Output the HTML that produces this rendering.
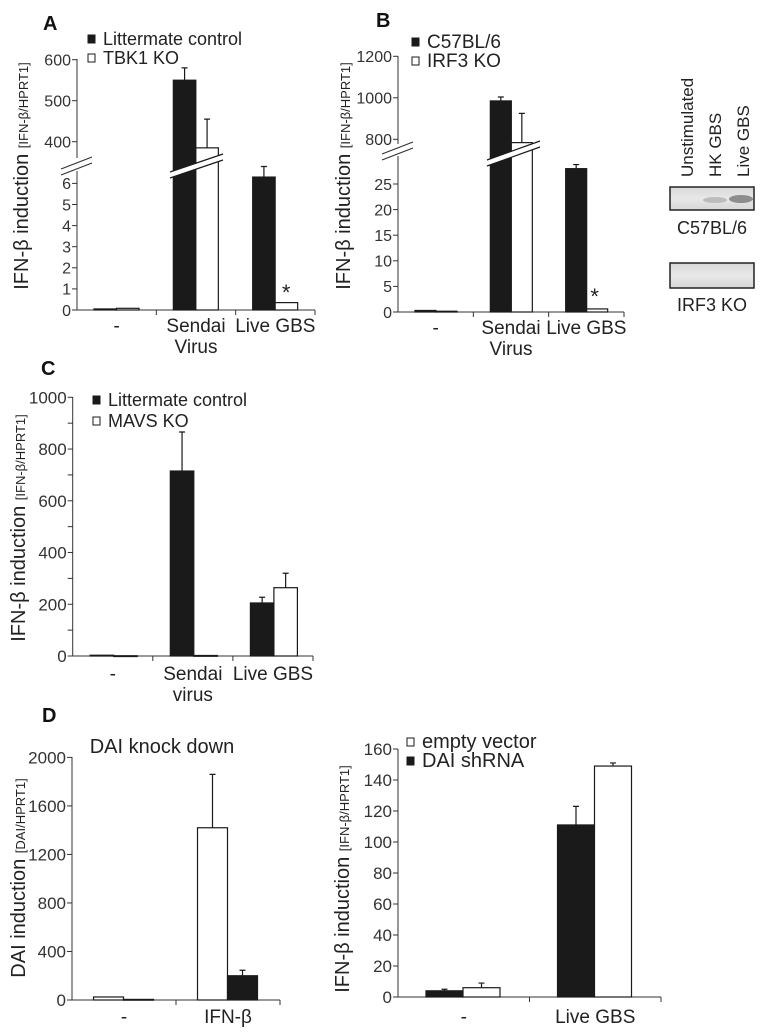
<!DOCTYPE html>
<html><head><meta charset="utf-8">
<style>
html,body{margin:0;padding:0;background:#fff;}
svg{display:block;font-family:"Liberation Sans",Arial,sans-serif;}
</style></head>
<body>
<svg id="fig" width="765" height="1036" viewBox="0 0 765 1036" xmlns="http://www.w3.org/2000/svg">
<defs>
<linearGradient id="blotbg" x1="0" y1="0" x2="0" y2="1">
<stop offset="0" stop-color="#d8d8d8"/><stop offset="0.5" stop-color="#e8e8e8"/><stop offset="1" stop-color="#d6d6d6"/>
</linearGradient>
</defs>
<g id="root"></g>
</svg>
<script>
// ---------- Panel A data ----------
const catsA = [['-'], ['Sendai', 'Virus'], ['Live GBS']];
const ctrlA = [0.05, 550, 6.3];
const ctrlAErr = [0.05, 580, 6.8];
const koA = [0.08, 385, 0.35];
const koAErr = [0.08, 455, 0.35];
const ticksALow = [0, 1, 2, 3, 4, 5, 6];
const ticksAHigh = [400, 500, 600];
// ---------- Panel B data ----------
const catsB = [['-'], ['Sendai', 'Virus'], ['Live GBS']];
const ctrlB = [0.3, 985, 28];
const ctrlBErr = [0.3, 1004, 28.8];
const koB = [0.15, 784, 0.6];
const koBErr = [0.15, 925, 0.8];
const ticksBLow = [0, 5, 10, 15, 20, 25];
const ticksBHigh = [800, 1000, 1200];
// ---------- Panel C data ----------
const catsC = [['-'], ['Sendai', 'virus'], ['Live GBS']];
const ctrlC = [3, 715, 205];
const ctrlCErr = [3, 866, 227];
const koC = [1, 2, 264];
const koCErr = [1, 2, 320];
const ticksC = [0, 200, 400, 600, 800, 1000];
const minorC = [100, 300, 500, 700, 900];
// ---------- Panel D left data ----------
const catsDL = [['-'], ['IFN-β']];
const emptyDL = [25, 1420];
const emptyDLErr = [32, 1860];
const shDL = [5, 200];
const shDLErr = [8, 245];
const ticksDL = [0, 400, 800, 1200, 1600, 2000];
// ---------- Panel D right data ----------
const catsDR = [['-'], ['Live GBS']];
const shDR = [4, 111];
const shDRErr = [5, 123];
const emptyDR = [6, 149];
const emptyDRErr = [9, 151];
const ticksDR = [0, 20, 40, 60, 80, 100, 120, 140, 160];

const NS = 'http://www.w3.org/2000/svg';
const root = document.getElementById('root');
function mk(tag, attrs, parent, text) {
  const e = document.createElementNS(NS, tag);
  for (const k in attrs) e.setAttribute(k, attrs[k]);
  if (text !== undefined) e.textContent = text;
  (parent || root).appendChild(e);
  return e;
}
const TXT = '#222';

const yA = v => v <= 8 ? 310 - v * 21.1 : 141.7 - (v - 400) * 0.41;
const yB = v => v <= 40 ? 312 - v * 5.12 : 139.3 - (v - 800) * 0.2075;
const yC = v => 656 - v * 0.2587;
const yDL = v => 1000 - v * 0.1213;
const yDR = v => 997 - v * 1.55;

function bar(g, x, w, y0, y1, black, name) {
  const r = mk('rect', {x: x, y: Math.min(y0, y1), width: w, height: Math.max(0.8, Math.abs(y0 - y1)),
    fill: black ? '#1a1a1a' : '#fff', stroke: '#1a1a1a', 'stroke-width': 1.2}, g);
  
  
}
function err(g, cx, yTop, yErr, name) {
  if (yTop - yErr < 1.5) return;
  const p = mk('path', {d: `M${cx},${yTop}V${yErr}M${cx - 3},${yErr}H${cx + 3}`, stroke: '#1a1a1a', 'stroke-width': 1.2, fill: 'none'}, g);
  
  
}
function yTick(g, x, y, label, size) {
  mk('line', {x1: x - 5, y1: y, x2: x, y2: y, stroke: '#333', 'stroke-width': 1}, g);
  if (label !== null) {
    const fs = size || 16;
    const t = mk('text', {x: x - 6, y: y + fs * 0.36, 'text-anchor': 'end', 'font-size': fs, fill: '#333'}, g, label);
    
    
  }
}
function xAxis(g, x0, x1, y, n) {
  mk('line', {x1: x0, y1: y, x2: x1, y2: y, stroke: '#333', 'stroke-width': 1}, g);
  const gw = (x1 - x0) / n;
  for (let i = 1; i <= n; i++) mk('line', {x1: x0 + gw * i, y1: y, x2: x0 + gw * i, y2: y + 5, stroke: '#333', 'stroke-width': 1}, g);
  return gw;
}
function catLabels(g, x0, gw, cats, y) {
  cats.forEach((c, i) => {
    c.forEach((line, j) => {
      const t = mk('text', {x: x0 + gw * (i + 0.5), y: y + j * 21, 'text-anchor': 'middle', 'font-size': 19, fill: TXT}, g, line);
      
      
    });
  });
}
function yTitle(g, cx, cy, main, unit) {
  const t = mk('text', {x: cx, y: cy, transform: `rotate(-90 ${cx} ${cy})`, 'text-anchor': 'middle', 'font-size': 20, fill: TXT, dy: 7}, g);
  
  
  mk('tspan', {}, t, main + ' ');
  mk('tspan', {'font-size': 13}, t, unit);
}
function legend(g, x, y, black, label, size, name) {
  const s = mk('rect', {x: x, y: y - 10, width: 7, height: 8, fill: black ? '#1a1a1a' : '#fff', stroke: '#1a1a1a', 'stroke-width': 1}, g);
  
  
  const t = mk('text', {x: x + 15, y: y, 'font-size': size || 18, fill: TXT}, g, label);
  
  
}
function panelLetter(x, y, L) {
  const t = mk('text', {x: x, y: y, 'font-size': 20, 'font-weight': 'bold', fill: '#111'}, root, L);
  
  
}
function barBreak(g, xa, xb, ya, yb) {
  const th = 6;
  mk('polygon', {points: `${xa},${ya} ${xb},${yb} ${xb},${yb + th} ${xa},${ya + th}`, fill: '#fff'}, g);
  mk('line', {x1: xa, y1: ya, x2: xb, y2: yb, stroke: '#1a1a1a', 'stroke-width': 1.2}, g);
  mk('line', {x1: xa, y1: ya + th, x2: xb, y2: yb + th, stroke: '#1a1a1a', 'stroke-width': 1.2}, g);
}
function axisBreak(g, x, y) {
  mk('rect', {x: x - 2, y: y - 4, width: 4, height: 12, fill: '#fff'}, g);
  mk('line', {x1: x - 16, y1: y + 6, x2: x + 15, y2: y - 6, stroke: '#333', 'stroke-width': 1.2}, g);
  mk('line', {x1: x - 16, y1: y + 12, x2: x + 15, y2: y, stroke: '#333', 'stroke-width': 1.2}, g);
}
function groupBars(g, x0, gw, off, w, first, firstErr, firstBlack, second, secondErr, ys, prefix) {
  first.forEach((v, i) => {
    const gx = x0 + gw * i + off;
    const base = ys(0);
    bar(g, gx, w, base, ys(v), firstBlack, prefix + '-bar-a-' + i);
    err(g, gx + w / 2, ys(v), ys(firstErr[i]), prefix + '-err-a-' + i);
    bar(g, gx + w, w, base, ys(second[i]), !firstBlack, prefix + '-bar-b-' + i);
    err(g, gx + w * 1.5, ys(second[i]), ys(secondErr[i]), prefix + '-err-b-' + i);
  });
}

// ================= PANEL A =================
(function () {
  const g = mk('g', {});  
  panelLetter(43, 30, 'A');
  const ax = 77;
  mk('line', {x1: ax, y1: 310, x2: ax, y2: 168, stroke: '#333', 'stroke-width': 1}, g);
  mk('line', {x1: ax, y1: 158, x2: ax, y2: 59, stroke: '#333', 'stroke-width': 1}, g);
  ticksALow.forEach(v => yTick(g, ax, yA(v), String(v)));
  ticksAHigh.forEach(v => yTick(g, ax, yA(v), String(v)));
  const gw = xAxis(g, ax, 315, 310, 3);
  groupBars(g, ax, gw, 17, 22.5, ctrlA, ctrlAErr, true, koA, koAErr, yA, 'a');
  barBreak(g, 170, 223, 172, 154);
  axisBreak(g, ax, 163);
  const st = mk('text', {x: ax + gw * 2 + 17 + 33.5, y: 300, 'text-anchor': 'middle', 'font-size': 22, fill: TXT}, g, '*');
   
  catLabels(g, ax, gw, catsA, 332);
  yTitle(g, 21, 176, 'IFN-β induction', '[IFN-β/HPRT1]');
  legend(g, 88, 45, true, 'Littermate control', 18, 'legend-littermate-control');
  legend(g, 88, 64, false, 'TBK1 KO', 18, 'legend-tbk1-ko');
})();

// ================= PANEL B =================
(function () {
  const g = mk('g', {});  
  panelLetter(376, 27, 'B');
  const ax = 398;
  mk('line', {x1: ax, y1: 312, x2: ax, y2: 155, stroke: '#333', 'stroke-width': 1}, g);
  mk('line', {x1: ax, y1: 144, x2: ax, y2: 56, stroke: '#333', 'stroke-width': 1}, g);
  ticksBLow.forEach(v => yTick(g, ax, yB(v), String(v)));
  ticksBHigh.forEach(v => yTick(g, ax, yB(v), String(v)));
  const gw = xAxis(g, ax, 624, 312, 3);
  groupBars(g, ax, gw, 17, 21, ctrlB, ctrlBErr, true, koB, koBErr, yB, 'b');
  barBreak(g, 487, 540, 160, 141);
  axisBreak(g, ax, 148);
  const st = mk('text', {x: ax + gw * 2 + 15 + 31, y: 304, 'text-anchor': 'middle', 'font-size': 22, fill: TXT}, g, '*');
   
  catLabels(g, ax, gw, catsB, 334);
  yTitle(g, 343, 176, 'IFN-β induction', '[IFN-β/HPRT1]');
  legend(g, 412, 48, true, 'C57BL/6', 19, 'legend-c57bl6');
  legend(g, 412, 67, false, 'IRF3 KO', 19, 'legend-irf3-ko');
  const lanes = ['Unstimulated', 'HK GBS', 'Live GBS'];
  const laneX = [693, 721, 749];
  lanes.forEach((l, i) => {
    const t = mk('text', {x: laneX[i], y: 177, transform: `rotate(-90 ${laneX[i]} 177)`, 'font-size': 17, fill: TXT}, g, l);
    
    
  });
  const b1 = mk('rect', {x: 670, y: 187, width: 84, height: 23, fill: 'url(#blotbg)', stroke: '#222', 'stroke-width': 1.5}, g);
   
  mk('ellipse', {cx: 715, cy: 200, rx: 12, ry: 3, fill: '#aaa', opacity: 0.7}, g);
  mk('ellipse', {cx: 741, cy: 199, rx: 12, ry: 4, fill: '#777', opacity: 0.8}, g);
  const b2 = mk('rect', {x: 670, y: 263, width: 84, height: 25, fill: 'url(#blotbg)', stroke: '#222', 'stroke-width': 1.5}, g);
   
  const t1 = mk('text', {x: 712, y: 234, 'text-anchor': 'middle', 'font-size': 18, fill: TXT}, g, 'C57BL/6');
   
  const t2 = mk('text', {x: 712, y: 311, 'text-anchor': 'middle', 'font-size': 18, fill: TXT}, g, 'IRF3 KO');
   
})();

// ================= PANEL C =================
(function () {
  const g = mk('g', {});  
  panelLetter(41, 375, 'C');
  const ax = 72.7;
  mk('line', {x1: ax, y1: 656, x2: ax, y2: 397, stroke: '#333', 'stroke-width': 1}, g);
  ticksC.forEach(v => yTick(g, ax, yC(v), String(v), 17));
  minorC.forEach(v => yTick(g, ax, yC(v), null));
  const gw = xAxis(g, ax, 313, 656, 3);
  groupBars(g, ax, gw, 17.5, 23.5, ctrlC, ctrlCErr, true, koC, koCErr, yC, 'c');
  catLabels(g, ax, gw, catsC, 680);
  yTitle(g, 18, 528, 'IFN-β induction', '[IFN-β/HPRT1]');
  legend(g, 93, 406, true, 'Littermate control', 18, 'legend-littermate-control-c');
  legend(g, 93, 427, false, 'MAVS KO', 18, 'legend-mavs-ko');
})();

// ================= PANEL D left =================
(function () {
  const g = mk('g', {});  
  panelLetter(42, 722, 'D');
  const ax = 72;
  mk('line', {x1: ax, y1: 1000, x2: ax, y2: 757, stroke: '#333', 'stroke-width': 1}, g);
  ticksDL.forEach(v => yTick(g, ax, yDL(v), String(v), 17));
  const gw = xAxis(g, ax, 280, 1000, 2);
  groupBars(g, ax, gw, 21.5, 30, emptyDL, emptyDLErr, false, shDL, shDLErr, yDL, 'dl');
  catLabels(g, ax, gw, catsDL, 1023);
  yTitle(g, 18, 878, 'DAI induction', '[DAI/HPRT1]');
  const t = mk('text', {x: 162, y: 753, 'text-anchor': 'middle', 'font-size': 20, fill: TXT}, g, 'DAI knock down');
   
})();

// ================= PANEL D right =================
(function () {
  const g = mk('g', {});  
  const ax = 398;
  mk('line', {x1: ax, y1: 997, x2: ax, y2: 749, stroke: '#333', 'stroke-width': 1}, g);
  ticksDR.forEach(v => yTick(g, ax, yDR(v), String(v), 17));
  const gw = xAxis(g, ax, 661, 997, 2);
  groupBars(g, ax, gw, 28, 37, shDR, shDRErr, true, emptyDR, emptyDRErr, yDR, 'dr');
  catLabels(g, ax, gw, catsDR, 1023);
  yTitle(g, 342, 879, 'IFN-β induction', '[IFN-β/HPRT1]');
  legend(g, 407, 748, false, 'empty vector', 20, 'legend-empty-vector');
  legend(g, 407, 767, true, 'DAI shRNA', 20, 'legend-dai-shrna');
})();
</script>
</body></html>
